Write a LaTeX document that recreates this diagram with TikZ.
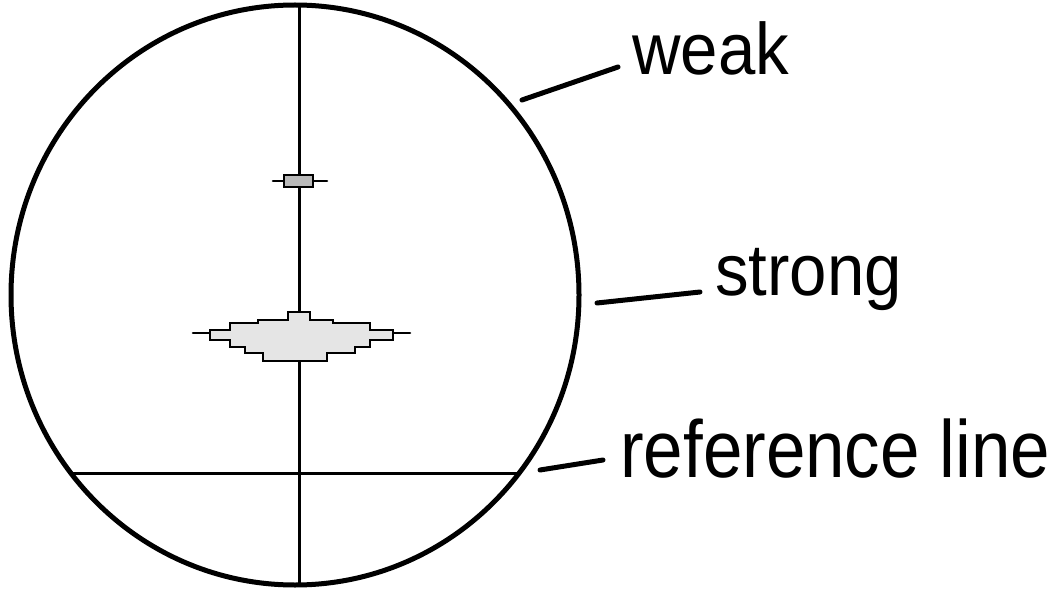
\documentclass[tikz,border=0pt]{standalone}
\usepackage{fontspec}
\setmainfont{Liberation Sans}
\begin{document}
\begin{tikzpicture}[x=1pt,y=-1pt,
  lbl/.style={anchor=base west, inner sep=0pt},
  rim/.style={line width=5pt},
  axis/.style={line width=3pt},
  leader/.style={line width=5pt, line cap=round},
  spot/.style={fill=gray!20, draw=black, line width=1.8pt},
  darkspot/.style={spot, fill=gray!55},
  tail/.style={line width=2.6pt, line cap=round}]
\useasboundingbox (0,0) rectangle (1055,591);
% field of view
\draw[rim] (295,295) ellipse [x radius=284, y radius=290];
\coordinate (vtop) at (299,6);
\coordinate (vbot) at (299,585);
\draw[axis] (vtop) -- (vbot);
\coordinate (hleft) at (71,473);
\coordinate (hright) at (519,473);
\draw[axis] (hleft) -- (hright);
% weak spot
\coordinate (wl) at (273,181);
\coordinate (wr) at (327,181);
\draw[tail] (wl) -- (wr);
\draw[darkspot] (284,175) rectangle (313,187);
% strong spot
\coordinate (sl1) at (193,333);
\coordinate (sl2) at (212,333);
\coordinate (sr1) at (391,333);
\coordinate (sr2) at (410,333);
\draw[tail] (sl1) -- (sl2);
\draw[tail] (sr1) -- (sr2);
\draw[spot] (288,312) -- (310,312) -- (310,320) -- (333,320) -- (333,323) -- (370,323)
  -- (370,330) -- (393,330) -- (393,340) -- (370,340) -- (370,347) -- (355,347)
  -- (355,353) -- (327,353) -- (327,361) -- (263,361) -- (263,353) -- (245,353)
  -- (245,347) -- (230,347) -- (230,340) -- (210,340) -- (210,330) -- (230,330)
  -- (230,323) -- (258,323) -- (258,320) -- (288,320) -- cycle;
% labels
\node[lbl] (weak) at (632,75) {\fontsize{73}{80}\selectfont\scalebox{0.92}[1]{weak}};
\node[lbl] (strong) at (715,295) {\fontsize{73}{80}\selectfont\scalebox{0.92}[1]{strong}};
\node[lbl] (ref) at (620,477) {\fontsize{81}{90}\selectfont\scalebox{0.876}[1]{reference line}};
% leaders
\coordinate (w1) at (522,100);
\coordinate (w2) at (618,67);
\draw[leader] (w1) -- (w2);
\coordinate (s1) at (597,303);
\coordinate (s2) at (700,292);
\draw[leader] (s1) -- (s2);
\coordinate (r1) at (540,470);
\coordinate (r2) at (603,460);
\draw[leader] (r1) -- (r2);
\end{tikzpicture}
\end{document}
